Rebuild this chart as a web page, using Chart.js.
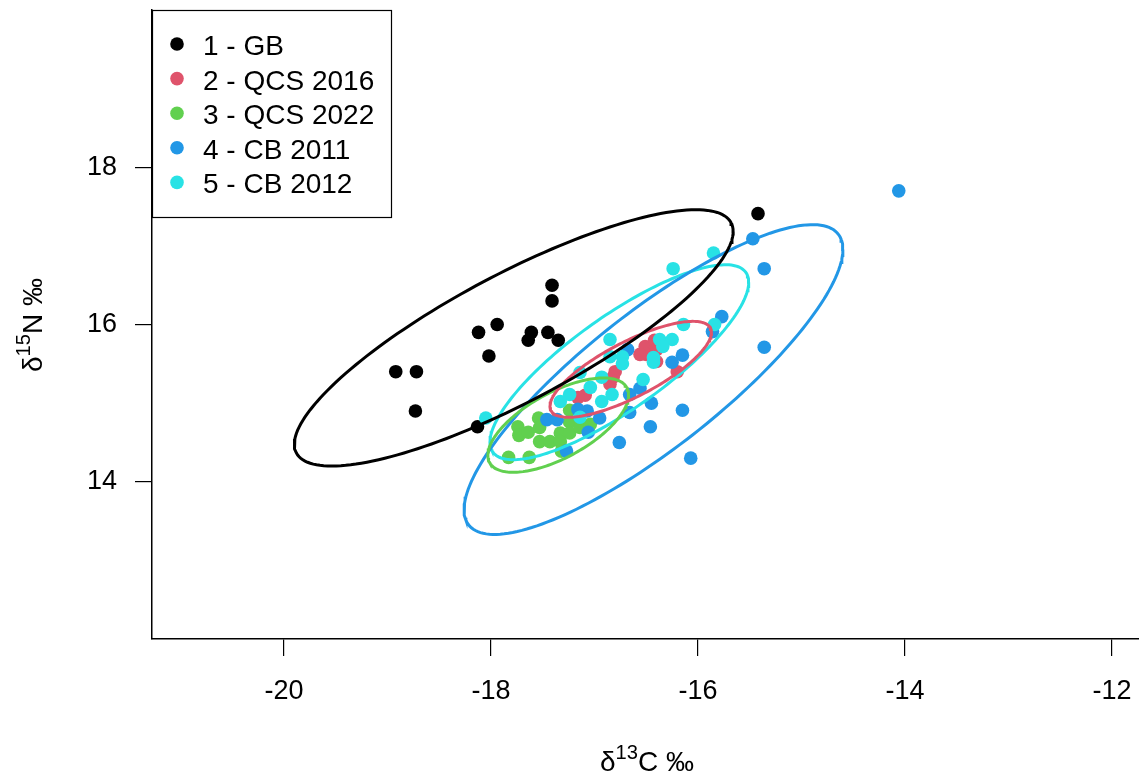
<!DOCTYPE html>
<html>
<head>
<meta charset="utf-8">
<script src="https://cdn.jsdelivr.net/npm/chart.js@4.4.0/dist/chart.umd.min.js"></script>
<style>
  html, body { margin: 0; padding: 0; background: #fff; }
</style>
</head>
<body>
<canvas id="myChart" width="1139" height="775"></canvas>
<script>
const groupLabels = ['1 - GB', '2 - QCS 2016', '3 - QCS 2022', '4 - CB 2011', '5 - CB 2012'];
const groupColors = ['#000000', '#DF536B', '#61D04F', '#2297E6', '#28E2E5'];

// d13C (x) and d15N (y) per group
const gbC = [-17.41, -17.41, -17.94, -18.12, -17.61, -17.64, -17.45, -17.35, -18.02, -18.92, -18.72, -18.73, -18.13, -15.42];
const gbN = [16.50, 16.30, 16.00, 15.90, 15.90, 15.80, 15.90, 15.80, 15.60, 15.40, 15.40, 14.90, 14.70, 17.41];

const qcs16C = [-16.51, -16.50, -16.42, -16.40, -16.40, -16.20, -16.80, -16.82, -17.09, -17.16, -16.56, -16.85];
const qcs16N = [15.72, 15.62, 15.80, 15.68, 15.53, 15.40, 15.40, 15.33, 15.10, 15.07, 15.62, 15.24];

const qcs22C = [-17.83, -17.63, -17.74, -17.73, -17.64, -17.54, -17.53, -17.53, -17.43, -17.33, -17.33, -17.24, -17.24, -17.24, -17.14, -17.04, -17.32];
const qcs22N = [14.31, 14.31, 14.70, 14.59, 14.63, 14.81, 14.69, 14.51, 14.51, 14.62, 14.51, 14.91, 14.76, 14.62, 14.69, 14.73, 14.39];

const cb11C = [-14.06, -15.47, -15.36, -15.36, -15.77, -15.86, -16.15, -16.25, -16.07, -16.15, -16.46, -16.76, -16.45, -16.68, -16.56, -16.66, -16.66, -16.95, -17.06, -17.16, -17.07, -17.27, -17.46, -17.36];
const cb11N = [17.70, 17.09, 16.71, 15.71, 16.10, 15.91, 15.61, 15.52, 14.30, 14.91, 14.70, 14.50, 15.00, 15.68, 15.19, 15.11, 14.88, 14.81, 14.63, 14.92, 14.90, 14.39, 14.79, 14.79];

const cb12C = [-18.05, -16.24, -15.85, -15.84, -16.14, -16.37, -16.25, -16.34, -16.43, -16.43, -16.53, -16.85, -16.73, -16.73, -16.85, -16.93, -16.93, -16.83, -17.24, -17.14, -17.04, -17.33, -17.14];
const cb12N = [14.81, 16.71, 16.91, 16.00, 16.00, 15.81, 15.81, 15.72, 15.58, 15.52, 15.30, 15.81, 15.59, 15.50, 15.59, 15.33, 15.02, 15.11, 15.11, 15.39, 15.20, 15.02, 14.82];

// ellipse per group: centre, half extent on each axis, correlation
const ellCenterC = [-17.78, -16.65, -17.35, -16.43, -16.76];
const ellCenterN = [15.83, 15.43, 14.72, 15.30, 15.52];
const ellHalfC = [2.12, 0.78, 0.68, 1.83, 1.25];
const ellHalfN = [1.63, 0.61, 0.60, 1.97, 1.24];
const ellCorr = [0.83, 0.77, 0.64, 0.84, 0.82];

const xTickValues = [-20, -18, -16, -14, -12];
const yTickValues = [14, 16, 18];

const FONT = "'Liberation Sans', Arial, Helvetica, sans-serif";

const groupsC = [gbC, qcs16C, qcs22C, cb11C, cb12C];
const groupsN = [gbN, qcs16N, qcs22N, cb11N, cb12N];
const pointOrder = [5, 4, 3, 2, 1];

function ellipsePoints(i) {
    const pts = [];
    const r = ellCorr[i];
    const s = Math.sqrt(1 - r * r);
    for (let k = 0; k <= 180; k++) {
        const t = (k / 180) * 2 * Math.PI;
        pts.push({
            x: ellCenterC[i] + ellHalfC[i] * Math.cos(t),
            y: ellCenterN[i] + ellHalfN[i] * (r * Math.cos(t) + s * Math.sin(t))
        });
    }
    return pts;
}

const datasets = [];
groupLabels.forEach((label, i) => {
    datasets.push({
        label: label,
        data: groupsC[i].map((c, j) => ({ x: c, y: groupsN[i][j] })),
        backgroundColor: groupColors[i],
        borderWidth: 0,
        pointRadius: 6.8,
        pointHoverRadius: 6.8,
        order: pointOrder[i]
    });
});
groupLabels.forEach((label, i) => {
    datasets.push({
        label: label + ' ellipse',
        data: ellipsePoints(i),
        showLine: true,
        borderColor: groupColors[i],
        borderWidth: 3,
        pointRadius: 0,
        fill: false,
        tension: 0,
        order: 0
    });
});

function drawSupText(ctx, parts, x, y, size) {
    // parts: [text, isSup]
    let cx = x;
    parts.forEach(p => {
        const fs = p[1] ? size * 0.72 : size;
        ctx.font = fs + 'px ' + FONT;
        ctx.fillText(p[0], cx, p[1] ? y - size * 0.42 : y);
        cx += ctx.measureText(p[0]).width;
    });
}
function supWidth(ctx, parts, size) {
    let w = 0;
    parts.forEach(p => {
        ctx.font = (p[1] ? size * 0.72 : size) + 'px ' + FONT;
        w += ctx.measureText(p[0]).width;
    });
    return w;
}

function noPad(s) {
    s.paddingTop = 0;
    s.paddingBottom = 0;
    s.paddingLeft = 0;
    s.paddingRight = 0;
}

// stretch the plot region to the right edge, like the cropped R plot
const stretchPlugin = {
    id: 'stretch',
    afterLayout(chart) {
        const x = chart.scales.x;
        x.right = chart.width;
        x.width = x.right - x.left;
        chart.chartArea.right = chart.width;
        chart.chartArea.width = chart.chartArea.right - chart.chartArea.left;
        x.configure();
    }
};

const decorPlugin = {
    id: 'decor',
    afterDraw(chart) {
        const ctx = chart.ctx;
        ctx.save();
        ctx.fillStyle = '#000';
        ctx.textBaseline = 'alphabetic';

        // x axis title
        const xParts = [['\u03B4', false], ['13', true], ['C \u2030', false]];
        const xw = supWidth(ctx, xParts, 28);
        drawSupText(ctx, xParts, 647 - xw / 2, 771, 28);

        // y axis title
        const yParts = [['\u03B4', false], ['15', true], ['N \u2030', false]];
        const yw = supWidth(ctx, yParts, 28);
        ctx.save();
        ctx.translate(42, 325);
        ctx.rotate(-Math.PI / 2);
        drawSupText(ctx, yParts, -yw / 2, 0, 28);
        ctx.restore();

        // legend box
        const bx = 152.5, by = 10.5, bw = 239, bh = 207;
        ctx.fillStyle = '#fff';
        ctx.fillRect(bx, by, bw, bh);
        ctx.strokeStyle = '#000';
        ctx.lineWidth = 1.2;
        ctx.strokeRect(bx, by, bw, bh);
        ctx.font = '28px ' + FONT;
        groupLabels.forEach((label, i) => {
            const yy = 44 + i * 34.6;
            ctx.fillStyle = groupColors[i];
            ctx.beginPath();
            ctx.arc(177, yy, 6.8, 0, 2 * Math.PI);
            ctx.fill();
            ctx.fillStyle = '#000';
            ctx.fillText(label, 203, yy + 11);
        });
        ctx.restore();
    }
};

const ctx = document.getElementById('myChart').getContext('2d');
const myChart = new Chart(ctx, {
    type: 'scatter',
    data: { datasets: datasets },
    options: {
        responsive: false,
        animation: false,
        devicePixelRatio: 1,
        layout: { padding: { top: 10, left: 0, right: 0, bottom: 0 } },
        plugins: {
            legend: { display: false },
            tooltip: { enabled: false }
        },
        scales: {
            x: {
                type: 'linear',
                position: 'bottom',
                min: -21.275,
                max: -11.739,
                afterBuildTicks: s => { s.ticks = xTickValues.map(v => ({ value: v })); },
                afterFit: s => { s.height = 136; noPad(s); },
                grid: { display: true, drawOnChartArea: false, drawTicks: true, tickLength: 17, color: '#000', lineWidth: 1.2 },
                border: { display: true, color: '#000', width: 1.5 },
                ticks: {
                    color: '#000',
                    font: { family: FONT, size: 27 },
                    padding: 19,
                    maxRotation: 0,
                    callback: v => String(v)
                }
            },
            y: {
                type: 'linear',
                position: 'left',
                min: 12,
                max: 20,
                afterBuildTicks: s => { s.ticks = yTickValues.map(v => ({ value: v })); },
                afterFit: s => { s.width = 152; noPad(s); },
                grid: { display: true, drawOnChartArea: false, drawTicks: true, tickLength: 17, color: '#000', lineWidth: 1.2 },
                border: { display: true, color: '#000', width: 1.5 },
                ticks: {
                    color: '#000',
                    font: { family: FONT, size: 27 },
                    padding: 18,
                    callback: v => String(v)
                }
            }
        }
    },
    plugins: [stretchPlugin, decorPlugin]
});
</script>
</body>
</html>
